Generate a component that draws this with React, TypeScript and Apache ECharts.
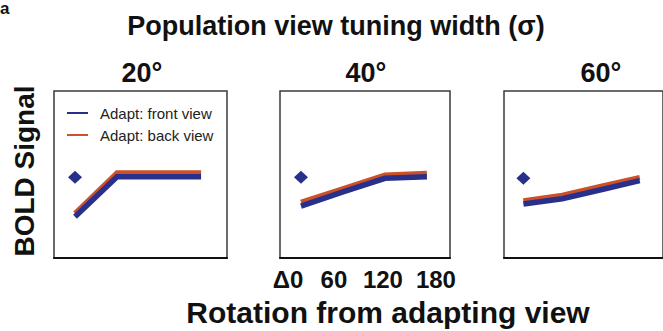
import React, { useEffect, useRef } from "react";
import * as echarts from "echarts";

// ---- data ----
const rotations = [0, 60, 120, 180];
const tickLabels = ["Δ0", "60", "120", "180"];
const panelTitles = ["20°", "40°", "60°"];
const seriesNames = ["Adapt: front view", "Adapt: back view"];

const frontView20 = [24.7, 48.7, 48.7, 48.7];
const backView20 = [26.8, 51.1, 51.1, 51.1];
const sameView20 = [48.3];

const frontView40 = [31.1, 39.6, 47.7, 48.7];
const backView40 = [33.4, 41.6, 49.7, 50.7];
const sameView40 = [48.3];

const frontView60 = [32.3, 35.5, 40.9, 46.3];
const backView60 = [34.3, 37.6, 43.0, 48.3];
const sameView60 = [47.7];

const FONT = "'Liberation Sans', Arial, Helvetica, sans-serif";
const BLUE = "#28308c";
const ORANGE = "#cc5128";

export default function App() {
  const ref = useRef<HTMLDivElement>(null);

  useEffect(() => {
    if (!ref.current) return;
    const chart = echarts.init(ref.current, null, { renderer: "svg" });

    const panels = [
      { front: frontView20, back: backView20, same: sameView20 },
      { front: frontView40, back: backView40, same: sameView40 },
      { front: frontView60, back: backView60, same: sameView60 },
    ];
    const grids = [
      { left: 54, top: 91, width: 173, height: 167 },
      { left: 280, top: 91, width: 170, height: 167 },
      { left: 504, top: 91, width: 172, height: 167 },
    ];
    const pxPerDeg = 0.7;
    const titleX = [142, 366, 601];

    const labelShift = [
      [0, 26, 0, 0],
      [0, 18, 0, 0],
      [0, 4, 0, 0],
      [0, 0, 0, 18],
    ];
    const rich: Record<string, any> = {};
    labelShift.forEach((p, i) => {
      rich["t" + i] = {
        padding: p,
        fontSize: 24,
        fontWeight: "bold",
        fontFamily: FONT,
        color: "#111",
      };
    });

    const series: any[] = [];
    panels.forEach((p, i) => {
      series.push({
        type: "line",
        name: seriesNames[1],
        xAxisIndex: i,
        yAxisIndex: i,
        data: rotations.map((r, k) => [r, p.back[k]]),
        symbol: "none",
        lineStyle: { color: ORANGE, width: 5, join: "miter", cap: "butt" },
        itemStyle: { color: ORANGE },
        z: 2,
      });
      series.push({
        type: "line",
        name: seriesNames[0],
        xAxisIndex: i,
        yAxisIndex: i,
        data: rotations.map((r, k) => [r, p.front[k]]),
        symbol: "none",
        lineStyle: { color: BLUE, width: 5.5, join: "miter", cap: "butt" },
        itemStyle: { color: BLUE },
        z: 3,
      });
      series.push({
        type: "scatter",
        name: "Same view",
        xAxisIndex: i,
        yAxisIndex: i,
        data: p.same.map((v) => [rotations[0], v]),
        symbol: "diamond",
        symbolSize: [14, 13],
        itemStyle: { color: BLUE, opacity: 1 },
        z: 4,
      });
    });

    const text = (
      t: string,
      x: number,
      y: number,
      size: number,
      weight: string = "bold",
      rotation = 0,
      align = "center",
      vAlign = "middle"
    ) => ({
      type: "text",
      x,
      y,
      rotation,
      style: {
        text: t,
        fontSize: size,
        fontWeight: weight,
        fontFamily: FONT,
        fill: "#111",
        align,
        verticalAlign: vAlign,
      },
    });

    const option: any = {
      animation: false,
      backgroundColor: "#ffffff",
      grid: grids.map((g) => ({
        ...g,
        show: true,
        borderColor: "#3a3a3a",
        borderWidth: 1.5,
        backgroundColor: "transparent",
      })),
      xAxis: grids.map((g, i) => ({
        type: "value",
        gridIndex: i,
        min: -30,
        max: Math.round(-30 + g.width / pxPerDeg),
        splitLine: { show: false },
        axisTick: { show: false },
        axisLine: { show: true, lineStyle: { color: "#111", width: 2 } },
        axisLabel: {
          show: i === 1,
          customValues: rotations,
          margin: 9,
          fontSize: 24,
          fontWeight: "bold",
          fontFamily: FONT,
          color: "#111",
          formatter: (v: number) => {
            const k = rotations.indexOf(v);
            return k < 0 ? "" : `{t${k}|${tickLabels[k]}}`;
          },
          rich,
        },
      })),
      yAxis: grids.map((_, i) => ({
        type: "value",
        gridIndex: i,
        min: 0,
        max: 100,
        show: false,
      })),
      legend: {
        data: seriesNames,
        orient: "vertical",
        left: 62,
        top: 100,
        itemWidth: 21,
        itemHeight: 2,
        itemGap: 6,
        icon: "rect",
        textStyle: {
          fontSize: 15,
          fontFamily: FONT,
          color: "#222",
          lineHeight: 16,
          padding: [0, 0, 0, 7],
        },
      },
      graphic: [
        text("a", 0, 0, 17, "bold", 0, "left", "top"),
        text("Population view tuning width (σ)", 336, 26, 27),
        ...panelTitles.map((t, i) => text(t, titleX[i], 73, 27)),
        text("BOLD Signal", 24, 171, 28, "bold", Math.PI / 2),
        text("Rotation from adapting view", 388, 312, 30),
      ],
      series,
    };

    chart.setOption(option);
    return () => chart.dispose();
  }, []);

  return (
    <div
      ref={ref}
      style={{ position: "fixed", left: 0, top: 0, width: 663, height: 331 }}
    />
  );
}
